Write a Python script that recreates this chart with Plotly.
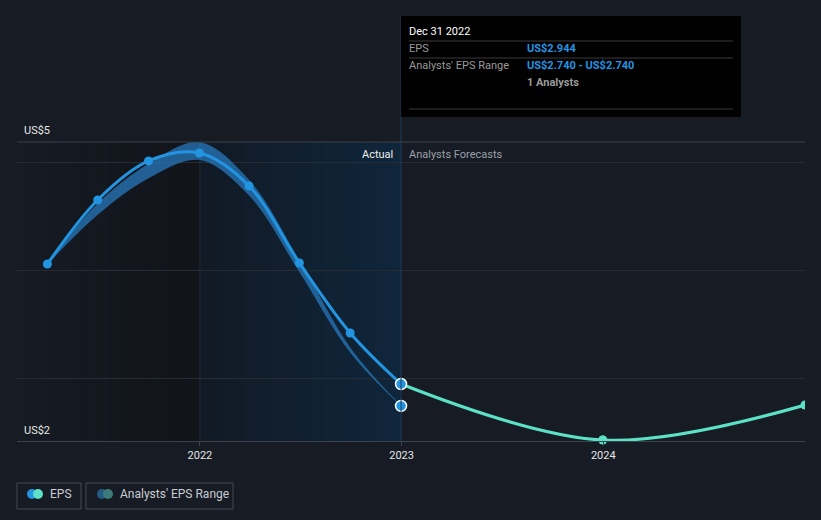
import plotly.graph_objects as go
import pandas as pd
import numpy as np

# ---------------- data ----------------
eps_dates = ['2021-03-31', '2021-06-30', '2021-09-30', '2021-12-31',
             '2022-03-31', '2022-06-30', '2022-09-30', '2022-12-31']
eps_values = [4.06, 4.656, 5.019, 5.093, 4.786, 4.07, 3.419, 2.944]

fc_dates = ['2022-12-31', '2023-12-31', '2024-12-31']
fc_values = [2.944, 2.423, 2.749]

range_dates = eps_dates
range_high = [4.06, 4.62, 4.99, 5.19, 4.84, 4.09, 3.28, 2.74]
range_low = [4.06, 4.52, 4.86, 5.03, 4.70, 3.99, 3.24, 2.74]

range_point_date = '2022-12-31'
range_point_value = 2.740

x_tick_vals = ['2022-01-01', '2023-01-01', '2024-01-01']
x_tick_text = ['2022', '2023', '2024']
y_grid_vals = [3, 4, 5]
y_top_label = 'US$5'
y_bottom_label = 'US$2'

x_range = ['2021-02-04', '2024-12-31']
y_range = [2.414, 5.195]
actual_start = '2022-01-01'
actual_end = '2022-12-31'

# ---------------- layout geometry ----------------
W, H = 821, 520
ML, MR, MT, MB = 17, 16, 142, 79
PW, PH = W - ML - MR, H - MT - MB

def px(xp):
    return (xp - ML) / PW

def py(yp):
    return (H - MB - yp) / PH

BG = '#161b24'
BLUE = '#2394e0'
TEAL = '#5ce1c6'
FONT = 'Roboto'

fig = go.Figure()

# analysts' range band
fig.add_trace(go.Scatter(x=range_dates, y=range_low, mode='lines',
                         line=dict(color='rgba(40,120,190,0.45)', width=0.8, shape='spline'),
                         hoverinfo='skip', showlegend=False))
fig.add_trace(go.Scatter(x=range_dates, y=range_high, mode='lines',
                         line=dict(color='rgba(40,120,190,0.45)', width=0.8, shape='spline'),
                         fill='tonexty', fillcolor='rgba(38,116,182,0.78)',
                         hoverinfo='skip', showlegend=False))

# forecast line
fig.add_trace(go.Scatter(x=fc_dates, y=fc_values, mode='lines+markers',
                         line=dict(color=TEAL, width=3.2, shape='spline'),
                         marker=dict(size=9, color=TEAL),
                         showlegend=False))
# interior forecast markers drawn unclipped (they overlap the axis line)
fig.add_trace(go.Scatter(x=fc_dates[1:-1], y=fc_values[1:-1], mode='markers',
                         marker=dict(size=9, color=TEAL), cliponaxis=False,
                         showlegend=False))

# EPS actual line
fig.add_trace(go.Scatter(x=eps_dates, y=eps_values, mode='lines+markers',
                         line=dict(color=BLUE, width=3, shape='spline'),
                         marker=dict(size=9, color=BLUE),
                         showlegend=False))

# highlighted (hover) points
fig.add_trace(go.Scatter(x=[eps_dates[-1], range_point_date],
                         y=[eps_values[-1], range_point_value], mode='markers',
                         marker=dict(size=11, color=BLUE, line=dict(color='white', width=1.5)),
                         showlegend=False))

shapes = []

# background gradients (drawn below gridlines); strips overlap to avoid seams
def gradient(x0, x1, c0, c1, n=60):
    d0, d1 = pd.Timestamp(x0), pd.Timestamp(x1)
    edges = pd.date_range(d0, d1, periods=n + 1)
    c0 = np.array([int(c0[i:i + 2], 16) for i in (1, 3, 5)])
    c1 = np.array([int(c1[i:i + 2], 16) for i in (1, 3, 5)])
    for i in range(n):
        t = i / (n - 1)
        c = (c0 + (c1 - c0) * t).round().astype(int)
        right = edges[min(i + 2, n)]
        shapes.append(dict(type='rect', xref='x', yref='paper',
                           x0=edges[i], x1=right, y0=0, y1=1,
                           fillcolor='rgb(%d,%d,%d)' % tuple(c),
                           line=dict(width=0), layer='below'))

gradient(x_range[0], actual_start, '#161b24', '#111419')
gradient(actual_start, actual_end, '#111a25', '#10263b')

# top border line
shapes.append(dict(type='line', xref='paper', yref='paper', x0=0, x1=1, y0=1, y1=1,
                   line=dict(color='#3b424c', width=1)))
# vertical line at start of the actual region
shapes.append(dict(type='line', xref='x', yref='paper', x0=actual_start, x1=actual_start,
                   y0=0, y1=1, line=dict(color='#1d2a38', width=1), layer='below'))
# hover line
shapes.append(dict(type='line', xref='x', yref='paper', x0=actual_end, x1=actual_end,
                   y0=0, y1=py(16), line=dict(color='#1f3d5a', width=1)))

# tooltip box
shapes.append(dict(type='rect', xref='paper', yref='paper', x0=px(401), x1=px(741),
                   y0=py(117), y1=py(16), fillcolor='#000000', line=dict(width=0)))
for yy in (41, 58, 109):
    shapes.append(dict(type='line', xref='paper', yref='paper', x0=px(409), x1=px(733),
                       y0=py(yy), y1=py(yy), line=dict(color='#3a3a3a', width=1)))

# legend boxes
for (a, b) in ((17, 81), (86, 233)):
    shapes.append(dict(type='rect', xref='paper', yref='paper', x0=px(a), x1=px(b),
                       y0=py(509), y1=py(483), fillcolor='rgba(0,0,0,0)',
                       line=dict(color='#454b54', width=1)))

def dot(cx, cy, r, color):
    shapes.append(dict(type='circle', xref='paper', yref='paper',
                       x0=px(cx - r), x1=px(cx + r), y0=py(cy + r), y1=py(cy - r),
                       fillcolor=color, line=dict(width=0)))

dot(32, 494, 5, BLUE)
dot(38, 494, 5, TEAL)
dot(102, 494, 5, '#255a85')
dot(108, 494, 5, '#3d7b7a')

annotations = []

def text(x, y, s, color='#e6e6e6', size=11, anchor='left', bold=False):
    if bold:
        s = '<b>' + s + '</b>'
    annotations.append(dict(xref='paper', yref='paper', x=px(x - 2 if anchor == 'left' else x + 2),
                            y=py(y), text=s,
                            showarrow=False, xanchor=anchor, yanchor='middle',
                            font=dict(family=FONT, size=size, color=color)))

text(24, 130, y_top_label)
text(24, 430, y_bottom_label)
text(393, 154, 'Actual', '#eeeeee', anchor='right')
text(409, 154, 'Analysts Forecasts', '#9aa0a8')

text(409, 31, 'Dec 31 2022', '#ffffff')
text(409, 48, 'EPS', '#9a9a9a')
text(527, 48, 'US$2.944', BLUE, bold=True)
text(409, 66, "Analysts' EPS Range", '#9a9a9a')
text(527, 66, 'US$2.740 - US$2.740', BLUE, bold=True)
text(527, 83, '1 Analysts', '#9a9a9a', bold=True)

text(50, 494, 'EPS', '#c8ccd2', size=12)
text(120, 494, "Analysts' EPS Range", '#c8ccd2', size=12)

fig.update_layout(
    width=W, height=H,
    margin=dict(l=ML, r=MR, t=MT, b=MB),
    paper_bgcolor=BG, plot_bgcolor=BG,
    showlegend=False,
    shapes=shapes, annotations=annotations,
    font=dict(family=FONT, color='#e6e6e6', size=11),
    xaxis=dict(type='date', range=x_range, tickvals=x_tick_vals, ticktext=x_tick_text,
               showgrid=False, zeroline=False, showline=True, linecolor='#3b424c',
               ticks='outside', ticklen=4, tickcolor='#3b424c',
               tickfont=dict(family=FONT, size=11, color='#e6e6e6')),
    yaxis=dict(range=y_range, tickvals=y_grid_vals, showticklabels=False,
               showgrid=True, gridcolor='#252c36', gridwidth=1, zeroline=False,
               showline=False),
    hovermode=False,
)

fig.write_html('out.html')
